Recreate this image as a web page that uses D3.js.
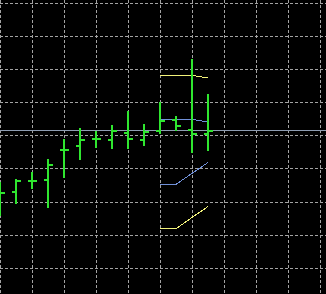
<!DOCTYPE html>
<html><head><meta charset="utf-8">
<script src="https://cdn.jsdelivr.net/npm/d3@7/dist/d3.min.js"></script>
<style>html,body{margin:0;padding:0;background:#000;overflow:hidden}svg{display:block}</style>
</head><body>
<svg id="chart" width="326" height="294"></svg>
<script>
// ---- data ----
const barIndex = [0,1,2,3,4,5,6,7,8,9,10,11,12,13];
const opens  = [1.28206,1.28230,1.28265,1.28267,1.28357,1.28368,1.28391,1.28387,1.28409,1.28388,1.28415,1.28447,1.28419,1.28404];
const highs  = [1.28261,1.28270,1.28291,1.28330,1.28389,1.28424,1.28416,1.28433,1.28475,1.28436,1.28501,1.28459,1.28631,1.28526];
const lows   = [1.28158,1.28194,1.28238,1.28181,1.28274,1.28327,1.28362,1.28359,1.28360,1.28369,1.28405,1.28413,1.28348,1.28355];
const closes = [1.28227,1.28264,1.28265,1.28313,1.28357,1.28387,1.28391,1.28415,1.28391,1.28410,1.28446,1.28431,1.28404,1.28415];

const bandIndex   = [10,11,12,13];
const upperYellow = [1.28584,1.28584,1.28584,1.28576];
const upperBlue   = [1.28451,1.28451,1.28451,1.28443];
const lowerBlue   = [1.28255,1.28255,1.28288,1.28321];
const lowerYellow = [1.28121,1.28121,1.28155,1.28188];

const bidPrice = 1.28418;
const gridPrices = [1.2800,1.2810,1.2820,1.2830,1.2840,1.2850,1.2860,1.2870,1.2880];
const gridIndex  = [0,2,4,6,8,10,12,14,16,18,20];

// ---- drawing ----
const W = 326, H = 294;
const svg = d3.select('#chart');
svg.append('rect').attr('width', W).attr('height', H).attr('fill', '#000');

const x = d3.scaleLinear().domain([0, 20]).range([0, 320]);
const y = d3.scaleLinear().domain([1.2800, 1.2880]).range([268.3, 3.3]);
const px = v => Math.round(x(v));
const py = v => Math.round(y(v));

const gridColor = '#a3a3a3';
// vertical grid via axis
const gx = svg.append('g').attr('transform', 'translate(0.5,0)')
  .call(d3.axisBottom(x).tickValues(gridIndex).tickSize(H).tickFormat(''));
gx.select('.domain').remove();
gx.selectAll('.tick line').attr('stroke', gridColor).attr('stroke-dasharray', '3,2')
  .attr('shape-rendering', 'crispEdges');
gx.selectAll('.tick').attr('transform', d => `translate(${px(d)},0)`);

// horizontal grid via axis
const gy = svg.append('g').attr('transform', 'translate(0,0.5)')
  .call(d3.axisRight(y).tickValues(gridPrices).tickSize(W).tickFormat(''));
gy.select('.domain').remove();
gy.selectAll('.tick line').attr('stroke', gridColor).attr('stroke-dasharray', '3,2')
  .attr('shape-rendering', 'crispEdges');
gy.selectAll('.tick').attr('transform', d => `translate(0,${Math.floor(y(d))})`);

// bid line
svg.append('line').attr('x1', 0).attr('x2', W)
  .attr('y1', py(bidPrice) + 0.5).attr('y2', py(bidPrice) + 0.5)
  .attr('stroke', '#8e9db2').attr('stroke-width', 1).attr('shape-rendering', 'crispEdges');

// band lines
const lineGen = arr => d3.line().x((d, i) => x(bandIndex[i])).y((d, i) => y(arr[i]) + 0.5);
[[upperYellow, '#f2f27a'], [upperBlue, '#7090d8'], [lowerBlue, '#7090d8'], [lowerYellow, '#f2f27a']]
  .forEach(([arr, c]) => {
    svg.append('path').datum(arr).attr('d', lineGen(arr)).attr('fill', 'none')
      .attr('stroke', c).attr('stroke-width', 1).attr('shape-rendering', 'crispEdges');
  });

// OHLC bars
const barColor = '#2fe62f';
const bars = svg.append('g').attr('fill', barColor);
barIndex.forEach((b, i) => {
  const cx = px(b);
  const yh = py(highs[i]), yl = py(lows[i]);
  bars.append('rect').attr('x', cx - 1).attr('y', yh).attr('width', 2).attr('height', Math.max(1, yl - yh));
  bars.append('rect').attr('x', cx - 4).attr('y', py(opens[i]) - 1).attr('width', 3).attr('height', 2);
  bars.append('rect').attr('x', cx + 1).attr('y', py(closes[i]) - 1).attr('width', 4).attr('height', 2);
});
</script>
</body></html>
